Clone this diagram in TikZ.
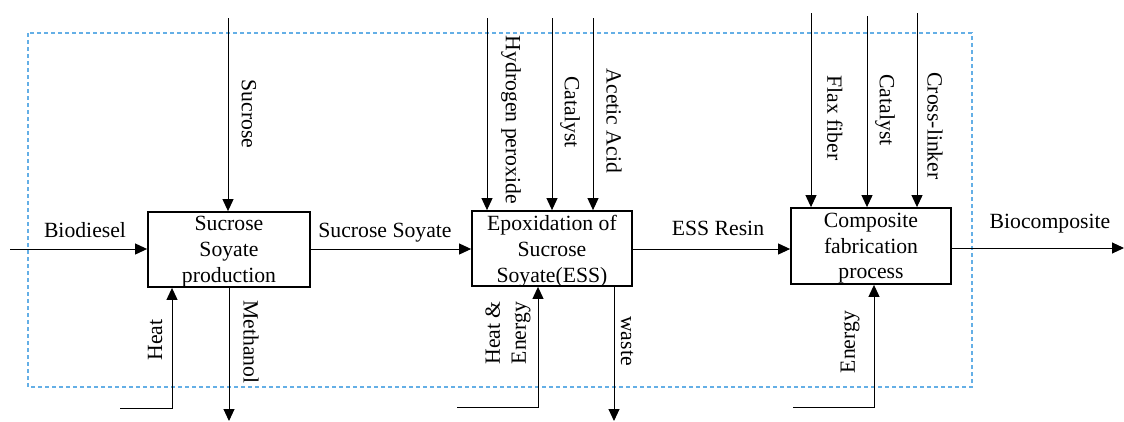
\documentclass[tikz,border=0pt]{standalone}
\usepackage{fontspec}
\setmainfont{Liberation Serif}
\usetikzlibrary{arrows.meta}
\definecolor{dashblue}{RGB}{100,175,230}
\begin{document}
\begin{tikzpicture}[x=1pt,y=-1pt,
  every node/.style={font=\fontsize{21.7}{26}\selectfont, inner sep=0pt},
  procbox/.style={draw, line width=1.8pt, align=center},
  boxtext/.style={anchor=base},
  arr/.style={line width=1pt, -{Triangle[length=12pt,width=11pt]}},
  down/.style={rotate=-90},
  up/.style={rotate=90, align=center}]
\useasboundingbox (0,0) rectangle (1124,421);
% dashed system boundary
\draw[dashblue, line width=1.1pt, dash pattern=on 4pt off 3pt] (28,33) rectangle (972,387);
% process boxes
\node[procbox, minimum width=162pt, minimum height=75pt] (b1) at (229,249.5) {};
\node[procbox, minimum width=160pt, minimum height=75pt] (b2) at (552,248.5) {};
\node[procbox, minimum width=160pt, minimum height=76pt] (b3) at (871,246) {};
% box texts
\node[boxtext] (t1a) at (229,230) {Sucrose};
\node[boxtext] (t1b) at (229,256) {Soyate};
\node[boxtext] (t1c) at (229,282) {production};
\node[boxtext] (t2a) at (552,230) {Epoxidation of};
\node[boxtext] (t2b) at (552,256) {Sucrose};
\node[boxtext] (t2c) at (552,282) {Soyate(ESS)};
\node[boxtext] (t3a) at (871,227) {Composite};
\node[boxtext] (t3b) at (871,253) {fabrication};
\node[boxtext] (t3c) at (871,278) {process};
% free ends
\coordinate (bioIn) at (10,249);
\coordinate (sucIn) at (228,18);
\coordinate (heatIn) at (120,408);
\coordinate (methOut) at (229,421);
\coordinate (h2o2In) at (487,18);
\coordinate (cat1In) at (552,18);
\coordinate (aceIn) at (593,18);
\coordinate (heIn) at (457,407);
\coordinate (wasteOut) at (614,421);
\coordinate (flaxIn) at (811,13);
\coordinate (cat2In) at (867,16);
\coordinate (crossIn) at (917,13);
\coordinate (enIn) at (793,407);
\coordinate (bioOut) at (1124,248);
% main flow
\draw[arr] (bioIn) -- (bioIn -| b1.west);
\draw[arr] (b1.east |- 0,249) -- (b2.west |- 0,249);
\draw[arr] (b2.east |- 0,249) -- (b3.west |- 0,249);
\draw[arr] (b3.east |- bioOut) -- (bioOut);
% box 1
\draw[arr] (sucIn) -- (sucIn |- b1.north);
\draw[arr] (heatIn) -- (172,408) -- (172,408 |- b1.south);
\draw[arr] (methOut |- b1.south) -- (methOut);
% box 2
\draw[arr] (h2o2In) -- (h2o2In |- b2.north);
\draw[arr] (cat1In) -- (cat1In |- b2.north);
\draw[arr] (aceIn) -- (aceIn |- b2.north);
\draw[arr] (heIn) -- (538,407) -- (538,407 |- b2.south);
\draw[arr] (wasteOut |- b2.south) -- (wasteOut);
% box 3
\draw[arr] (flaxIn) -- (flaxIn |- b3.north);
\draw[arr] (cat2In) -- (cat2In |- b3.north);
\draw[arr] (crossIn) -- (crossIn |- b3.north);
\draw[arr] (enIn) -- (874,407) -- (874,407 |- b3.south);
% labels
\node[anchor=base] (lBio) at (85,237) {Biodiesel};
\node[anchor=base] (lSS) at (385,237) {Sucrose Soyate};
\node[anchor=base] (lESS) at (718,235) {ESS Resin};
\node[anchor=base] (lBC) at (1050,228) {Biocomposite};
\node[down] (lSuc) at (249,114) {Sucrose};
\node[up] (lHeat) at (155,340) {Heat};
\node[down] (lMeth) at (251,342) {Methanol};
\node[down] (lH2) at (511,120) {Hydrogen peroxide};
\node[down] (lCat1) at (570,112) {Catalyst};
\node[down] (lAce) at (614,121) {Acetic Acid};
\node[up] (lHE) at (508,333) {Heat \&\\Energy};
\node[down] (lWaste) at (627,341) {waste};
\node[down] (lFlax) at (835,118) {Flax fiber};
\node[down] (lCat2) at (885,110) {Catalyst};
\node[down] (lCross) at (935,126) {Cross-linker};
\node[up] (lEn) at (850,342) {Energy};
\end{tikzpicture}
\end{document}
